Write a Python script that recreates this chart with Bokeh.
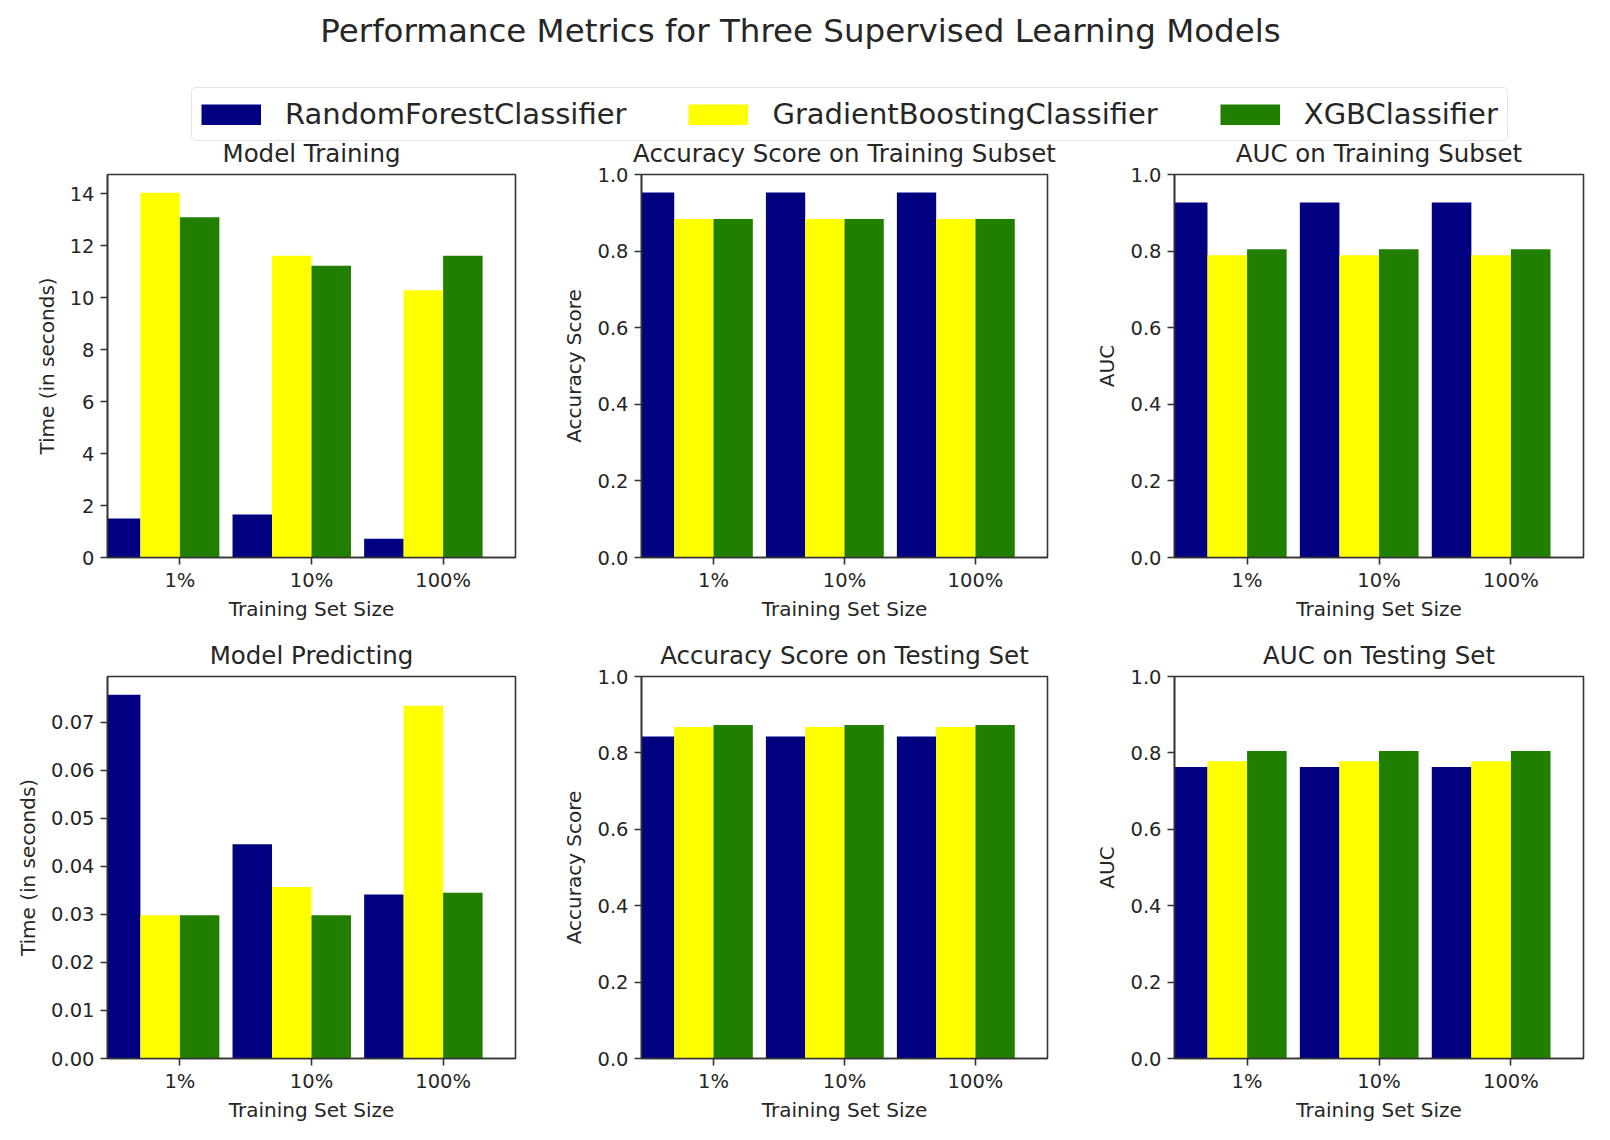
from bokeh.plotting import figure
from bokeh.layouts import column, row
from bokeh.models import (Range1d, FixedTicker, PrintfTickFormatter, Legend,
                          LegendItem, ColumnDataSource)
from bokeh.core.properties import value
from bokeh.embed import file_html
from bokeh.resources import INLINE

FONT = "DejaVu Sans"
TEXT = "#262626"
FRAME = "#333333"

suptitle = "Performance Metrics for Three Supervised Learning Models"
sizes = ["1%", "10%", "100%"]
models = ["RandomForestClassifier", "GradientBoostingClassifier", "XGBClassifier"]
colors = ["#000080", "#ffff00", "#217f00"]
bar_width = 0.3

# Model Training (time in seconds)
train_time_rf = [1.50, 1.65, 0.72]
train_time_gb = [14.03, 11.61, 10.28]
train_time_xgb = [13.09, 11.22, 11.61]
# Accuracy on training subset
acc_train_rf = [0.953, 0.953, 0.953]
acc_train_gb = [0.884, 0.884, 0.884]
acc_train_xgb = [0.884, 0.884, 0.884]
# AUC on training subset
auc_train_rf = [0.927, 0.927, 0.927]
auc_train_gb = [0.789, 0.789, 0.789]
auc_train_xgb = [0.805, 0.805, 0.805]
# Model Predicting (time in seconds)
pred_time_rf = [0.0757, 0.0446, 0.0341]
pred_time_gb = [0.0298, 0.0357, 0.0734]
pred_time_xgb = [0.0298, 0.0298, 0.0345]
# Accuracy on testing set
acc_test_rf = [0.843, 0.843, 0.843]
acc_test_gb = [0.868, 0.868, 0.868]
acc_test_xgb = [0.873, 0.873, 0.873]
# AUC on testing set
auc_test_rf = [0.763, 0.763, 0.763]
auc_test_gb = [0.778, 0.778, 0.778]
auc_test_xgb = [0.805, 0.805, 0.805]

time_train_ticks = [0, 2, 4, 6, 8, 10, 12, 14]
time_pred_ticks = [0.00, 0.01, 0.02, 0.03, 0.04, 0.05, 0.06, 0.07]
score_ticks = [0.0, 0.2, 0.4, 0.6, 0.8, 1.0]

xticks = [i + 1.5 * bar_width for i in range(len(sizes))]


def make_panel(title, ylabel, series, yticks, fmt, yrange, width, height,
               bl, br, bt, bb):
    p = figure(width=width, height=height,
               x_range=Range1d(-0.1, 3.0), y_range=Range1d(*yrange),
               output_backend="svg", toolbar_location=None,
               min_border_left=bl, min_border_right=br,
               min_border_top=bt, min_border_bottom=bb, title=title)
    for k, (vals, c) in enumerate(zip(series, colors)):
        src = ColumnDataSource(dict(
            x=[i + k * bar_width for i in range(len(sizes))], top=vals))
        p.vbar(x="x", top="top", bottom=0, width=bar_width, source=src,
               fill_color=c, line_color=None)
    p.grid.visible = False
    p.outline_line_color = FRAME
    p.outline_line_width = 1.6
    p.background_fill_color = "white"
    p.border_fill_color = "white"
    p.border_fill_alpha = 0.0

    p.title.align = "center"
    p.title.text_font = FONT
    p.title.text_font_size = "24.5px"
    p.title.text_font_style = "normal"
    p.title.text_color = TEXT
    p.title.standoff = 14

    p.xaxis.ticker = FixedTicker(ticks=xticks)
    p.xaxis.major_label_overrides = {t: s for t, s in zip(xticks, sizes)}
    p.xaxis.axis_label = "Training Set Size"
    p.yaxis.ticker = FixedTicker(ticks=yticks)
    p.yaxis.formatter = PrintfTickFormatter(format=fmt)
    p.yaxis.axis_label = ylabel
    for ax in (p.xaxis, p.yaxis):
        ax.axis_line_color = FRAME
        ax.axis_line_width = 1.6
        ax.major_tick_line_color = FRAME
        ax.major_tick_line_width = 1.6
        ax.major_tick_out = 7
        ax.major_tick_in = 0
        ax.minor_tick_line_color = None
        ax.major_label_text_font = FONT
        ax.major_label_text_font_size = "19.5px"
        ax.major_label_text_color = TEXT
        ax.axis_label_text_font = FONT
        ax.axis_label_text_font_size = "20px"
        ax.axis_label_text_font_style = "normal"
        ax.axis_label_text_color = TEXT
    p.xaxis.major_label_standoff = 4
    p.yaxis.major_label_standoff = 6
    p.xaxis.axis_label_standoff = 2
    p.yaxis.axis_label_standoff = 8
    return p


t_max = 1.05 * max(train_time_rf + train_time_gb + train_time_xgb)
p_max = 1.05 * max(pred_time_rf + pred_time_gb + pred_time_xgb)

widths = [534, 534, 538]
lefts = [107, 107, 106]
rights = [19, 21, 23]

row1_specs = [
    ("Model Training", "Time (in seconds)",
     [train_time_rf, train_time_gb, train_time_xgb], time_train_ticks, "%d", (0, t_max)),
    ("Accuracy Score on Training Subset", "Accuracy Score",
     [acc_train_rf, acc_train_gb, acc_train_xgb], score_ticks, "%.1f", (0, 1)),
    ("AUC on Training Subset", "AUC",
     [auc_train_rf, auc_train_gb, auc_train_xgb], score_ticks, "%.1f", (0, 1)),
]
row2_specs = [
    ("Model Predicting", "Time (in seconds)",
     [pred_time_rf, pred_time_gb, pred_time_xgb], time_pred_ticks, "%.2f", (0, p_max)),
    ("Accuracy Score on Testing Set", "Accuracy Score",
     [acc_test_rf, acc_test_gb, acc_test_xgb], score_ticks, "%.1f", (0, 1)),
    ("AUC on Testing Set", "AUC",
     [auc_test_rf, auc_test_gb, auc_test_xgb], score_ticks, "%.1f", (0, 1)),
]

row1 = [make_panel(*s, widths[j], 502, lefts[j], rights[j], 46, 73)
        for j, s in enumerate(row1_specs)]
row2 = [make_panel(*s, widths[j], 502, lefts[j], rights[j], 46, 74)
        for j, s in enumerate(row2_specs)]

# Header with suptitle and legend (overlaps the first row's top border a bit)
HW, HH = 1606, 144
header = figure(width=HW, height=HH, x_range=Range1d(0, HW), y_range=Range1d(HH, 0),
                output_backend="svg", toolbar_location=None,
                x_axis_location=None, y_axis_location=None, min_border=0,
                margin=(0, 0, -16, 0))
header.grid.visible = False
header.outline_line_color = None
header.text(x=[800], y=[30], text=[suptitle], text_font=value(FONT),
            text_font_size="32.5px", text_align="center", text_baseline="alphabetic",
            text_color=TEXT)
items = []
for name, c in zip(models, colors):
    # thick butt-capped line -> solid 60x21 legend swatch
    r = header.line(x=[0], y=[0], line_color=c, line_width=21, line_cap="butt")
    items.append(LegendItem(label=name, renderers=[r]))
legend = Legend(items=items, orientation="horizontal", location=(191, 3),
                glyph_width=60, glyph_height=21, label_standoff=24, spacing=62,
                padding=9, margin=0, label_text_font=FONT,
                label_text_font_size="29px", label_text_color=TEXT,
                border_line_color="#cccccc", border_line_width=1.5,
                background_fill_color="white", background_fill_alpha=1.0)
if "border_radius" in Legend.properties():
    legend.border_radius = 5
header.add_layout(legend)

layout = column(header, row(*row1), row(*row2))

open("out.html", "w").write(file_html(layout, INLINE))
